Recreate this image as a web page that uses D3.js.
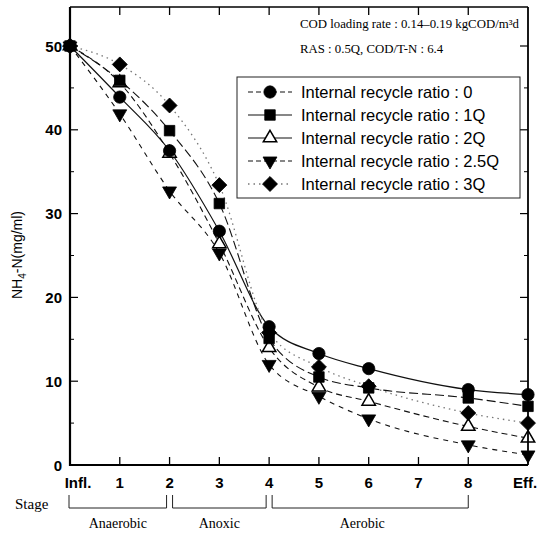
<!DOCTYPE html>
<html>
<head>
<meta charset="utf-8">
<script src="https://cdn.jsdelivr.net/npm/d3@7/dist/d3.min.js"></script>
<style>
  html, body { margin: 0; padding: 0; background: #fff; }
  svg { display: block; }
</style>
</head>
<body>
<div id="chart"></div>
<script>
// Sampling points along the process train (stage 7 was not sampled)
const stageLabels = ["Infl.", "1", "2", "3", "4", "5", "6", "7", "8", "Eff."];
const stagePos    = [0, 1, 2, 3, 4, 5, 6, 7, 8, 9.2];
const sampledStages = ["Infl.", "1", "2", "3", "4", "5", "6", "8", "Eff."];

// NH4-N (mg/l) at each sampled stage, per internal recycle ratio
const ratio0   = [50, 43.9, 37.5, 27.9, 16.5, 13.3, 11.5, 9.0, 8.4];
const ratio1Q  = [50, 45.9, 39.9, 31.2, 15.1, 10.5, 9.2, 8.0, 7.0];
const ratio2Q  = [50, 45.6, 37.2, 26.4, 14.0, 9.3, 7.6, 4.6, 3.2];
const ratio25Q = [50, 41.9, 32.7, 25.3, 12.0, 8.2, 5.5, 2.4, 1.2];
const ratio3Q  = [50, 47.8, 42.9, 33.4, 15.8, 11.7, 9.4, 6.2, 5.0];

const seriesNames = [
  "Internal recycle ratio : 0",
  "Internal recycle ratio : 1Q",
  "Internal recycle ratio : 2Q",
  "Internal recycle ratio : 2.5Q",
  "Internal recycle ratio : 3Q"
];

const yTicks = [0, 10, 20, 30, 40, 50];
const yMinorTicks = [5, 15, 25, 35, 45];

const stageGroups = ["Anaerobic", "Anoxic", "Aerobic"];
const stageGroupFrom = [0, 2, 4];
const stageGroupTo   = [2, 4, 8];

const noteLines = [
  "COD loading rate : 0.14\u20130.19 kgCOD/m\u00B3d",
  "RAS : 0.5Q, COD/T-N : 6.4"
];

// ---------- layout ----------
const W = 539, H = 534;
const plot = { left: 70, right: 528, top: 7, bottom: 465 };

const svg = d3.select("#chart").append("svg")
  .attr("width", W).attr("height", H)
  .attr("viewBox", `0 0 ${W} ${H}`);

const x = d3.scaleLinear().domain([0, 9.2]).range([plot.left, plot.right]);
const y = d3.scaleLinear().domain([0, 50]).range([plot.bottom, plot.top + 39]);

const sans = "'Liberation Sans', Arial, sans-serif";
const serif = "'Liberation Serif', 'Times New Roman', serif";

const posOf = s => stagePos[stageLabels.indexOf(s)];

// ---------- series ----------
const seriesValues = [ratio0, ratio1Q, ratio2Q, ratio25Q, ratio3Q];
const dashes = [null, "9,4", "6,4", "5,5", "1.5,4"];
const strokeCols = ["#111", "#111", "#111", "#111", "#777"];
const strokeW = [1.2, 1.1, 1.1, 1.1, 1.3];

const sq = d3.symbol().type(d3.symbolSquare);
const shapes = [
  { path: d3.symbol().type(d3.symbolCircle).size(118)(), rot: 0, fill: "#000" },
  { path: d3.symbol().type(d3.symbolSquare).size(110)(), rot: 0, fill: "#000" },
  { path: d3.symbol().type(d3.symbolTriangle).size(78)(), rot: 0, fill: "#fff" },
  { path: d3.symbol().type(d3.symbolTriangle).size(84)(), rot: 180, fill: "#000" },
  { path: sq.size(112)(), rot: 45, fill: "#000" }
];

const line = d3.line()
  .x(d => x(d.x)).y(d => y(d.v))
  .curve(d3.curveMonotoneX);

const data = seriesValues.map((vals, i) =>
  vals.map((v, j) => ({ x: posOf(sampledStages[j]), v })));

const gLines = svg.append("g");
data.forEach((pts, i) => {
  gLines.append("path")
    .attr("d", line(pts))
    .attr("fill", "none")
    .attr("stroke", strokeCols[i])
    .attr("stroke-width", strokeW[i])
    .attr("stroke-dasharray", dashes[i]);
});

// markers: open triangles first so the filled markers sit on top
const drawOrder = [2, 4, 1, 0, 3];
const gMarks = svg.append("g");
drawOrder.forEach(i => {
  gMarks.selectAll(null).data(data[i]).join("path")
    .attr("d", shapes[i].path)
    .attr("transform", d => `translate(${x(d.x)},${y(d.v)}) rotate(${shapes[i].rot})`)
    .attr("fill", shapes[i].fill)
    .attr("stroke", "#000")
    .attr("stroke-width", i === 2 ? 1.5 : 0.8);
});

// ---------- frame & ticks ----------
const gAx = svg.append("g").attr("stroke", "#000").attr("fill", "none");
gAx.append("line").attr("x1", plot.left).attr("x2", plot.left)
  .attr("y1", plot.top).attr("y2", plot.bottom + 1).attr("stroke-width", 2.2);
gAx.append("line").attr("x1", plot.left - 1).attr("x2", plot.right)
  .attr("y1", plot.bottom).attr("y2", plot.bottom).attr("stroke-width", 2.2);
gAx.append("line").attr("x1", plot.left).attr("x2", plot.right)
  .attr("y1", plot.top).attr("y2", plot.top).attr("stroke-width", 1.6);
gAx.append("line").attr("x1", plot.right).attr("x2", plot.right)
  .attr("y1", plot.top).attr("y2", plot.bottom).attr("stroke-width", 1.8);

yTicks.filter(t => t > 0).forEach(t => {
  gAx.append("line").attr("x1", plot.left).attr("x2", plot.left + 8)
    .attr("y1", y(t)).attr("y2", y(t)).attr("stroke-width", 1.2);
  gAx.append("line").attr("x1", plot.right).attr("x2", plot.right - 8)
    .attr("y1", y(t)).attr("y2", y(t)).attr("stroke-width", 1.2);
});
yMinorTicks.forEach(t => {
  gAx.append("line").attr("x1", plot.left).attr("x2", plot.left + 4)
    .attr("y1", y(t)).attr("y2", y(t)).attr("stroke-width", 1);
  gAx.append("line").attr("x1", plot.right).attr("x2", plot.right - 4)
    .attr("y1", y(t)).attr("y2", y(t)).attr("stroke-width", 1);
});
stageLabels.forEach((s, i) => {
  if (s === "Infl." || s === "Eff.") return;
  const px = x(stagePos[i]);
  gAx.append("line").attr("x1", px).attr("x2", px)
    .attr("y1", plot.bottom).attr("y2", plot.bottom - 8).attr("stroke-width", 1.3);
  gAx.append("line").attr("x1", px).attr("x2", px)
    .attr("y1", plot.top).attr("y2", plot.top + 8).attr("stroke-width", 1.3);
});

// y tick labels
svg.append("g").selectAll("text").data(yTicks).join("text")
  .attr("x", plot.left - 8).attr("y", d => y(d) + 5.5)
  .attr("text-anchor", "end")
  .attr("font-family", sans).attr("font-size", 15).attr("font-weight", "bold")
  .text(d => d);

// x tick labels
svg.append("g").selectAll("text").data(stageLabels).join("text")
  .attr("x", (d, i) => d === "Infl." ? x(stagePos[i]) + 8 : d === "Eff." ? x(stagePos[i]) - 3 : x(stagePos[i]))
  .attr("y", plot.bottom + 23)
  .attr("text-anchor", "middle")
  .attr("font-family", sans).attr("font-size", 15).attr("font-weight", "bold")
  .text(d => d);

// y axis title: NH4-N(mg/ml)
const yTitle = svg.append("text")
  .attr("transform", `translate(22,255) rotate(-90)`)
  .attr("text-anchor", "middle")
  .attr("font-family", sans).attr("font-size", 14);
yTitle.append("tspan").text("NH");
yTitle.append("tspan").attr("font-size", 10).attr("dy", 4).text("4");
yTitle.append("tspan").attr("dy", -4).text("-N(mg/ml)");

// ---------- stage brackets ----------
svg.append("text").attr("x", 15).attr("y", 509)
  .attr("font-family", serif).attr("font-size", 15).text("Stage");

const gBr = svg.append("g");
stageGroups.forEach((name, i) => {
  const x0 = x(stageGroupFrom[i]) + (i === 0 ? -1 : 3);
  const x1 = x(stageGroupTo[i]) - (i === 2 ? 0 : 3);
  gBr.append("path")
    .attr("d", `M${x0},495 V508 H${x1} V495`)
    .attr("fill", "none").attr("stroke", "#222").attr("stroke-width", 1);
  gBr.append("text")
    .attr("x", i === 2 ? (x0 + x1) / 2 - 8 : (x0 + x1) / 2).attr("y", 528)
    .attr("text-anchor", "middle")
    .attr("font-family", serif).attr("font-size", 14).text(name);
});

// ---------- operating conditions note ----------
svg.append("g").selectAll("text").data(noteLines).join("text")
  .attr("x", 300).attr("y", (d, i) => 28 + i * 25)
  .attr("font-family", serif).attr("font-size", 12.8)
  .text(d => d);

// ---------- legend ----------
const lg = svg.append("g");
lg.append("rect").attr("x", 237).attr("y", 77).attr("width", 283).attr("height", 121)
  .attr("fill", "#fff").attr("stroke", "#222").attr("stroke-width", 1);
seriesNames.forEach((name, i) => {
  const cy = 92 + i * 23;
  lg.append("line").attr("x1", 248).attr("x2", 292).attr("y1", cy).attr("y2", cy)
    .attr("stroke", strokeCols[i]).attr("stroke-width", strokeW[i])
    .attr("stroke-dasharray", i === 4 ? "1.5,4" : (i === 0 || i === 3) ? "5,3" : null);
  lg.append("path").attr("d", shapes[i].path)
    .attr("transform", `translate(270,${cy}) rotate(${shapes[i].rot})`)
    .attr("fill", shapes[i].fill).attr("stroke", "#000")
    .attr("stroke-width", i === 2 ? 1.5 : 0.8);
  lg.append("text").attr("x", 301).attr("y", cy + 6)
    .attr("font-family", sans).attr("font-size", 16.5)
    .text(name);
});
</script>
</body>
</html>
